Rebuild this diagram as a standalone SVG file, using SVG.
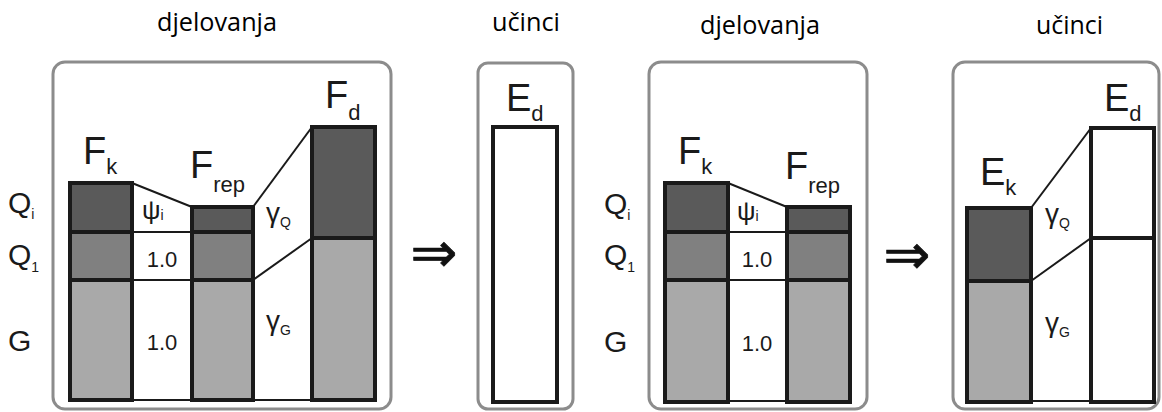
<svg xmlns="http://www.w3.org/2000/svg" width="1162" height="412" viewBox="0 0 1162 412">
<style>
.frame{fill:#fff;stroke:#8c8c8c;stroke-width:3}
.bar{stroke:#1a1a1a;stroke-width:4}
.dk{fill:#5a5a5a}.md{fill:#808080}.lt{fill:#a9a9a9}.wh{fill:#fff}
.con{stroke:#1a1a1a;stroke-width:2;fill:none}
.lbl{font-family:"Liberation Sans",Arial,sans-serif;fill:#1a1a1a}
.big{font-size:38px}.sub{font-size:22px}
.q{font-size:30px}.qs{font-size:14px}
.m22{font-size:22px}.psi{font-size:26px}.g{font-size:28px}
.title{font-family:"Open Sans","Liberation Sans",sans-serif;font-size:25px;fill:#000}
.arr{font-family:"DejaVu Sans",sans-serif;font-size:56px;fill:#111;text-anchor:middle;stroke:#111;stroke-width:0.8}
</style>
<rect width="1162" height="412" fill="#fff"/>

<g id="titles">
<text class="title" x="157" y="31" textLength="120" lengthAdjust="spacingAndGlyphs">djelovanja</text>
<text class="title" x="492" y="31" textLength="68" lengthAdjust="spacingAndGlyphs">učinci</text>
<text class="title" x="700" y="34" textLength="120" lengthAdjust="spacingAndGlyphs">djelovanja</text>
<text class="title" x="1036" y="34" textLength="67" lengthAdjust="spacingAndGlyphs">učinci</text>
</g>

<g id="frames">
<rect class="frame" x="53" y="62" width="338" height="347" rx="12"/>
<rect class="frame" x="478" y="63" width="95" height="346" rx="10"/>
<rect class="frame" x="649" y="62" width="218" height="347" rx="12"/>
<rect class="frame" x="953" y="62" width="206" height="347" rx="12"/>
</g>

<g id="connectors">
<line class="con" x1="132" y1="183" x2="192" y2="207"/>
<line class="con" x1="132" y1="232" x2="192" y2="232"/>
<line class="con" x1="132" y1="280" x2="192" y2="280"/>
<line class="con" x1="132" y1="400" x2="192" y2="400"/>
<line class="con" x1="253" y1="207" x2="312" y2="127"/>
<line class="con" x1="253" y1="280" x2="312" y2="238"/>
<line class="con" x1="253" y1="400" x2="312" y2="400"/>
<line class="con" x1="728" y1="183" x2="787" y2="207"/>
<line class="con" x1="728" y1="232" x2="787" y2="232"/>
<line class="con" x1="728" y1="280" x2="787" y2="280"/>
<line class="con" x1="728" y1="401" x2="787" y2="401"/>
<line class="con" x1="1031" y1="208" x2="1091" y2="128"/>
<line class="con" x1="1031" y1="281" x2="1091" y2="238"/>
<line class="con" x1="1031" y1="401" x2="1091" y2="401"/>
<text class="arr" x="434" y="272">⇒</text>
<text class="arr" x="907" y="274">⇒</text>
</g>

<g id="p1-Fk">
<rect class="bar lt" x="70" y="280" width="62" height="120"/>
<rect class="bar md" x="70" y="232" width="62" height="48"/>
<rect class="bar dk" x="70" y="183" width="62" height="49"/>
<text class="lbl big" x="83" y="164">F<tspan class="sub" dy="10">k</tspan></text>
</g>
<g id="p1-Frep">
<rect class="bar lt" x="192" y="280" width="61" height="120"/>
<rect class="bar md" x="192" y="232" width="61" height="48"/>
<rect class="bar dk" x="192" y="207" width="61" height="25"/>
<text class="lbl big" x="190" y="178">F<tspan class="sub" dy="14">rep</tspan></text>
</g>
<g id="p1-Fd">
<rect class="bar lt" x="312" y="238" width="63" height="162"/>
<rect class="bar dk" x="312" y="127" width="63" height="111"/>
<text class="lbl big" x="325" y="108">F<tspan class="sub" dy="12">d</tspan></text>
</g>
<g id="p1-labels">
<text class="lbl q" x="8" y="213">Q<tspan class="qs" dy="6">i</tspan></text>
<text class="lbl q" x="8" y="265">Q<tspan class="qs" dy="7">1</tspan></text>
<text class="lbl q" x="8" y="351">G</text>
<text class="lbl psi" x="142" y="219">ψ<tspan font-size="14" dy="1">i</tspan></text>
<text class="lbl m22" x="162" y="267" text-anchor="middle">1.0</text>
<text class="lbl m22" x="162" y="350" text-anchor="middle">1.0</text>
<text class="lbl g" x="266" y="222">γ<tspan class="qs" dy="5">Q</tspan></text>
<text class="lbl g" x="266" y="330">γ<tspan class="qs" dy="5">G</tspan></text>
</g>

<g id="p2-Ed">
<rect class="bar wh" x="493" y="127" width="64" height="275"/>
<text class="lbl big" x="506" y="111">E<tspan class="sub" dy="10">d</tspan></text>
</g>

<g id="p3-Fk">
<rect class="bar lt" x="665" y="280" width="63" height="122"/>
<rect class="bar md" x="665" y="232" width="63" height="48"/>
<rect class="bar dk" x="665" y="183" width="63" height="49"/>
<text class="lbl big" x="678" y="164">F<tspan class="sub" dy="10">k</tspan></text>
</g>
<g id="p3-Frep">
<rect class="bar lt" x="787" y="280" width="63" height="122"/>
<rect class="bar md" x="787" y="232" width="63" height="48"/>
<rect class="bar dk" x="787" y="207" width="63" height="25"/>
<text class="lbl big" x="785" y="179">F<tspan class="sub" dy="14">rep</tspan></text>
</g>
<g id="p3-labels">
<text class="lbl q" x="604" y="214">Q<tspan class="qs" dy="6">i</tspan></text>
<text class="lbl q" x="604" y="265">Q<tspan class="qs" dy="7">1</tspan></text>
<text class="lbl q" x="604" y="352">G</text>
<text class="lbl psi" x="737" y="220">ψ<tspan font-size="14" dy="1">i</tspan></text>
<text class="lbl m22" x="757" y="267" text-anchor="middle">1.0</text>
<text class="lbl m22" x="757" y="351" text-anchor="middle">1.0</text>
</g>

<g id="p4-Ek">
<rect class="bar lt" x="967" y="281" width="64" height="121"/>
<rect class="bar dk" x="967" y="208" width="64" height="73"/>
<text class="lbl big" x="980" y="185">E<tspan class="sub" dy="10">k</tspan></text>
</g>
<g id="p4-Ed">
<rect class="bar wh" x="1091" y="238" width="63" height="164"/>
<rect class="bar wh" x="1091" y="128" width="63" height="110"/>
<text class="lbl big" x="1104" y="111">E<tspan class="sub" dy="10">d</tspan></text>
</g>
<g id="p4-labels">
<text class="lbl g" x="1045" y="223">γ<tspan class="qs" dy="5">Q</tspan></text>
<text class="lbl g" x="1045" y="332">γ<tspan class="qs" dy="5">G</tspan></text>
</g>
</svg>
